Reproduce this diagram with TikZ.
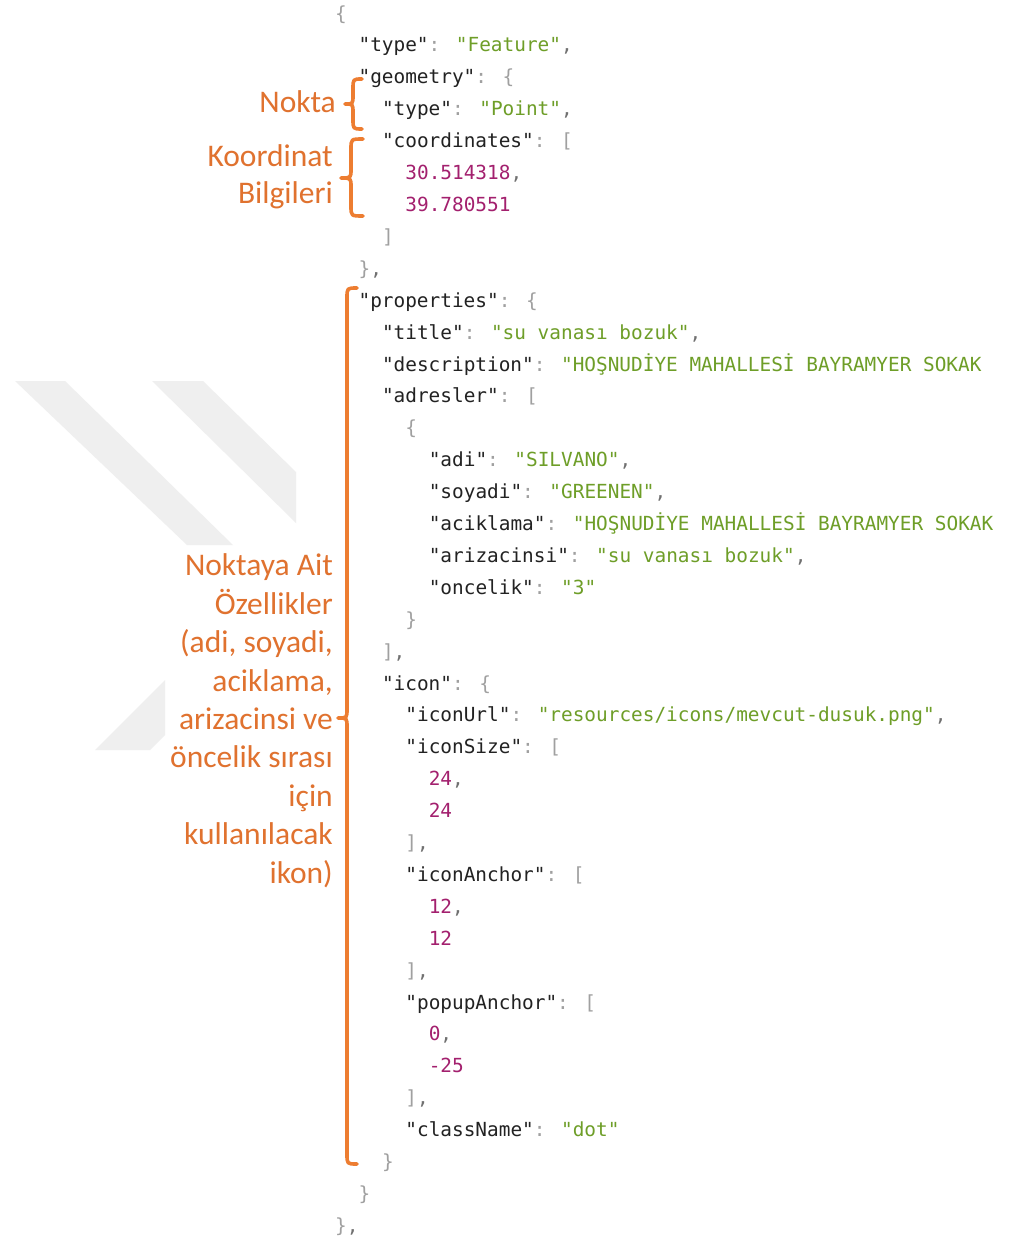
\documentclass[tikz,border=0pt]{standalone}
\usepackage{fontspec}
\newfontfamily\jsonfont{DejaVu Sans Mono}
\newfontfamily\notefont{Carlito}
\definecolor{keyc}{HTML}{222222}
\definecolor{strc}{HTML}{6E9E28}
\definecolor{numc}{HTML}{A3206E}
\definecolor{punc}{HTML}{A0A0A0}
\definecolor{commac}{HTML}{707070}
\definecolor{notec}{HTML}{E0722F}
\definecolor{bracec}{HTML}{ED7D31}
\definecolor{wmark}{HTML}{EFEFEF}
% JSON token helpers
\newcommand\jk[1]{\textcolor{keyc}{"#1"}}
\newcommand\js[1]{\textcolor{strc}{"#1"}}
\newcommand\jso[1]{\textcolor{strc}{"#1}}
\newcommand\jn[1]{\textcolor{numc}{#1}}
\newcommand\jp[1]{\textcolor{punc}{#1}}
\newcommand\jc{\textcolor{commac}{,}}
\newcommand\jcol{\textcolor{punc}{:} }
% one line of the listing: indent level, line number, content
\newcommand\jline[3]{\node[code] (l#2) at ({335+23.4*#1},{20.1+31.9*(#2-1)}) {#3};}
% left curly brace: end x, stem x, tip x, top y, tip y, bottom y
\newcommand\notebrace[6]{%
  \draw[bracepath] (#1,#4) .. controls (#2,#4) .. (#2,#4+10) -- (#2,#5-9)
    .. controls (#2,#5) .. (#3,#5) .. controls (#2,#5) .. (#2,#5+9)
    -- (#2,#6-10) .. controls (#2,#6) .. (#1,#6);}
\tikzset{
  code/.style={font=\jsonfont\fontsize{19.4}{22}\selectfont, inner sep=0pt, anchor=base west},
  note/.style={font=\notefont\fontsize{31.5}{38.4}\selectfont, text=notec,
    align=right, inner sep=0pt, anchor=base east},
  bracepath/.style={draw=bracec, line width=3.6pt, line cap=round, line join=round},
  watermark/.style={fill=wmark}
}
\begin{document}
\begin{tikzpicture}[x=1pt,y=-1pt]
\fill[white] (0,0) rectangle (1010,1241);
\useasboundingbox (0,0) rectangle (1010,1241);

% faint background emblem
\fill[watermark] (15,381) -- (65,381) -- (233,545) -- (187,545) -- cycle;
\fill[watermark] (152,381) -- (203,381) -- (296,472) -- (296,523) -- cycle;
\fill[watermark] (95,750) -- (165,680) -- (165,735) -- (150,750) -- cycle;

% GeoJSON listing
\jline{0}{1}{\jp{\{}}
\jline{1}{2}{\jk{type}\jcol\js{Feature}\jc}
\jline{1}{3}{\jk{geometry}\jcol\jp{\{}}
\jline{2}{4}{\jk{type}\jcol\js{Point}\jc}
\jline{2}{5}{\jk{coordinates}\jcol\jp{[}}
\jline{3}{6}{\jn{30.514318}\jc}
\jline{3}{7}{\jn{39.780551}}
\jline{2}{8}{\jp{]}}
\jline{1}{9}{\jp{\}}\jc}
\jline{1}{10}{\jk{properties}\jcol\jp{\{}}
\jline{2}{11}{\jk{title}\jcol\js{su vanası bozuk}\jc}
\jline{2}{12}{\jk{description}\jcol\jso{HOŞNUDİYE MAHALLESİ BAYRAMYER SOKAK}}
\jline{2}{13}{\jk{adresler}\jcol\jp{[}}
\jline{3}{14}{\jp{\{}}
\jline{4}{15}{\jk{adi}\jcol\js{SILVANO}\jc}
\jline{4}{16}{\jk{soyadi}\jcol\js{GREENEN}\jc}
\jline{4}{17}{\jk{aciklama}\jcol\jso{HOŞNUDİYE MAHALLESİ BAYRAMYER SOKAK}}
\jline{4}{18}{\jk{arizacinsi}\jcol\js{su vanası bozuk}\jc}
\jline{4}{19}{\jk{oncelik}\jcol\js{3}}
\jline{3}{20}{\jp{\}}}
\jline{2}{21}{\jp{]}\jc}
\jline{2}{22}{\jk{icon}\jcol\jp{\{}}
\jline{3}{23}{\jk{iconUrl}\jcol\js{resources/icons/mevcut-dusuk.png}\jc}
\jline{3}{24}{\jk{iconSize}\jcol\jp{[}}
\jline{4}{25}{\jn{24}\jc}
\jline{4}{26}{\jn{24}}
\jline{3}{27}{\jp{]}\jc}
\jline{3}{28}{\jk{iconAnchor}\jcol\jp{[}}
\jline{4}{29}{\jn{12}\jc}
\jline{4}{30}{\jn{12}}
\jline{3}{31}{\jp{]}\jc}
\jline{3}{32}{\jk{popupAnchor}\jcol\jp{[}}
\jline{4}{33}{\jn{0}\jc}
\jline{4}{34}{\jn{-25}}
\jline{3}{35}{\jp{]}\jc}
\jline{3}{36}{\jk{className}\jcol\js{dot}}
\jline{2}{37}{\jp{\}}}
\jline{1}{38}{\jp{\}}}
\jline{0}{39}{\jp{\}}\jc}

% annotations (a multi-line node sits on the baseline of its last line)
\node[note] (nokta) at (336,113) {Nokta};
\node[note, font=\notefont\fontsize{31.5}{37}\selectfont] (koord) at (333,204) {Koordinat\\Bilgileri};
\node[note] (ozellik) at (333,883) {Noktaya Ait\\Özellikler\\(adi, soyadi,\\aciklama,\\arizacinsi ve\\öncelik sırası\\için\\kullanılacak\\ikon)};

\notebrace{362}{353}{345}{79}{104}{129}
\notebrace{363}{351}{341}{139}{178}{216}
\notebrace{357}{347}{338}{288}{718}{1164}
\end{tikzpicture}
\end{document}
